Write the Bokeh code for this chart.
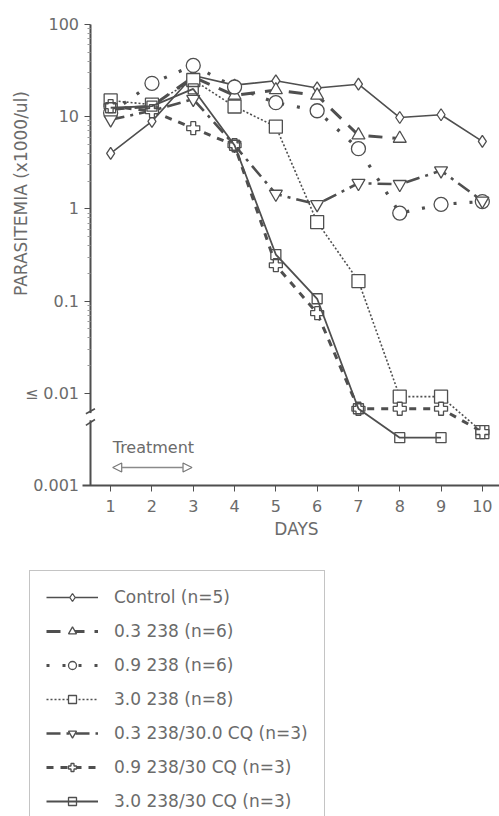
from math import pi
from bokeh.plotting import figure
from bokeh.models import FixedTicker, Legend, LegendItem, Label, Arrow, NormalHead
from bokeh.embed import file_html
from bokeh.resources import INLINE

# ---------------- data ----------------
days = [1, 2, 3, 4, 5, 6, 7, 8, 9, 10]
days_to8 = [1, 2, 3, 4, 5, 6, 7, 8]
days_to9 = [1, 2, 3, 4, 5, 6, 7, 8, 9]

control = [4.0, 8.9, 28, 22, 24.5, 20.5, 22.5, 9.8, 10.5, 5.4]
d03_238 = [12, 13, 27, 17, 19.5, 17, 6.3, 5.8]
d09_238 = [11, 23, 36, 21, 14.2, 11.6, 4.5, 0.9, 1.12, 1.2]
d30_238 = [15, 13.5, 25, 12.9, 7.8, 0.72, 0.165, 0.0092, 0.0092, 0.0038]
cq_03 = [9.3, 11.6, 15.5, 4.9, 1.45, 1.12, 1.9, 1.85, 2.6, 1.22]
cq_09 = [13, 11.5, 7.5, 4.9, 0.245, 0.074, 0.0068, 0.0068, 0.0068, 0.0038]
cq_30 = [12.5, 13, 20, 4.9, 0.32, 0.106, 0.0068, 0.0033, 0.0033]

series_names = ["Control (n=5)", "0.3 238 (n=6)", "0.9 238 (n=6)", "3.0 238 (n=8)",
                "0.3 238/30.0 CQ (n=3)", "0.9 238/30 CQ (n=3)", "3.0 238/30 CQ (n=3)"]

x_ticks = [1, 2, 3, 4, 5, 6, 7, 8, 9, 10]
y_ticks = [0.001, 0.01, 0.1, 1, 10, 100]
y_tick_labels = ["0.001", "\u2264 0.01", "0.1", "1", "10", "100"]

# ---------------- layout constants ----------------
W, H = 499, 816
PX_DAY = 41.3          # pixels per day
X0_PX = 89.5           # pixel position of x = 0.5 (the y axis)
PX_DEC = 92.2          # pixels per decade
Y100_PX = 24           # pixel position of y = 100

x_lo = 0.5 - X0_PX / PX_DAY
x_hi = 0.5 + (W - X0_PX) / PX_DAY
y_lo = 10 ** (2 - (H - Y100_PX) / PX_DEC)
y_hi = 10 ** (2 + Y100_PX / PX_DEC)

FONT = "DejaVu Sans"
TXT = "#6b6b6b"
INK = "#4f4f4f"

styles = [
    # x, y, marker, size, dash, line width, marker fill alpha
    (days, control, "diamond", 12, "solid", 1.6, 1.0),
    (days_to8, d03_238, "triangle", 13, "14 10", 3.0, 1.0),
    (days, d09_238, "circle", 14, "3 13", 3.2, 1.0),
    (days, d30_238, "square", 13, "2 2", 1.6, 1.0),
    (days, cq_03, "inverted_triangle", 13, "14 6 3 6", 2.6, 1.0),
    (days, cq_09, "plus", 13, "7 7", 3.0, 1.0),
    (days_to9, cq_30, "square", 10, "solid", 1.8, 0.0),
]

p = figure(frame_width=W, frame_height=H,
           x_range=(x_lo, x_hi), y_range=(y_lo, y_hi),
           y_axis_type="log", output_backend="svg", toolbar_location=None,
           min_border_left=0, min_border_right=0, min_border_top=0,
           min_border_bottom=0)
p.background_fill_color = "white"
p.border_fill_color = "white"
p.outline_line_color = None
p.xgrid.visible = False
p.ygrid.visible = False

items = []
for name, (xs, ys, mk, sz, dash, lw, fa) in zip(series_names, styles):
    lr = p.line(xs, ys, line_color=INK, line_width=lw, line_dash=dash)
    sr = p.scatter(xs, ys, marker=mk, size=sz, fill_color="white", fill_alpha=fa,
                   line_color=INK, line_width=1.3)
    items.append(LegendItem(label=name, renderers=[lr, sr]))

# ---------------- axes (fixed inside the full-canvas frame) ----------------
xa = p.xaxis[0]
xa.fixed_location = 0.001
xa.bounds = (0.33, x_hi)
xa.ticker = FixedTicker(ticks=x_ticks)
xa.axis_line_color = INK
xa.axis_line_width = 2
xa.major_tick_line_color = INK
xa.major_tick_out = 6
xa.major_tick_in = 0
xa.minor_tick_line_color = None
xa.major_label_standoff = 8
xa.major_label_text_font = FONT
xa.major_label_text_font_size = "16px"
xa.major_label_text_color = TXT

minor = []
for dec in [0.01, 0.1, 1, 10]:
    for k in range(2, 10):
        minor.append(dec * k)

ya = p.yaxis[0]
ya.fixed_location = 0.5
ya.bounds = (0.001, 100)
ya.ticker = FixedTicker(ticks=y_ticks, minor_ticks=minor)
overrides = {}
for v, s in zip(y_ticks, y_tick_labels):
    overrides[v] = s
    overrides[str(v)] = s
ya.major_label_overrides = overrides
ya.axis_line_color = INK
ya.axis_line_width = 2
ya.major_tick_line_color = INK
ya.major_tick_out = 6
ya.major_tick_in = 0
ya.minor_tick_line_color = "#9a9a9a"
ya.minor_tick_out = 3
ya.minor_tick_in = 0
ya.major_label_standoff = 5
ya.major_label_text_font = FONT
ya.major_label_text_font_size = "16px"
ya.major_label_text_color = TXT

# axis break on the y axis
p.quad(left=[0.44], right=[0.56], bottom=[0.0051], top=[0.0061],
       fill_color="white", line_color=None, level="overlay")
p.segment(x0=[0.40, 0.40], y0=[0.0060, 0.00448], x1=[0.62, 0.62], y1=[0.0068, 0.0052],
          line_color=INK, line_width=1.6, level="overlay")

# ---------------- texts ----------------
p.add_layout(Label(x=20, y=H - 193, x_units="screen", y_units="screen",
                   text="PARASITEMIA (x1000/ul)", angle=pi / 2,
                   text_align="center", text_baseline="middle",
                   text_font=FONT, text_font_size="17px", text_color=TXT))
p.add_layout(Label(x=5.5, y=H - 528, x_units="data", y_units="screen", text="DAYS",
                   text_align="center", text_baseline="middle",
                   text_font=FONT, text_font_size="17px", text_color=TXT))
p.add_layout(Label(x=1.05, y=H - 447, x_units="data", y_units="screen", text="Treatment",
                   text_align="left", text_baseline="middle",
                   text_font=FONT, text_font_size="16px", text_color=TXT))
p.add_layout(Arrow(x_start=1.05, y_start=0.00157, x_end=2.97, y_end=0.00157,
                   line_color="#8a8a8a", line_width=1.5,
                   start=NormalHead(size=9, fill_color="white", line_color="#777", line_width=1.2),
                   end=NormalHead(size=9, fill_color="white", line_color="#777", line_width=1.2)))

# ---------------- legend ----------------
legend = Legend(items=items, location=(29, H - 572 - 256), orientation="vertical",
                label_text_font=FONT, label_text_font_size="17px", label_text_color=TXT,
                border_line_color="#8a8a8a", border_line_width=1,
                background_fill_color="white", background_fill_alpha=1.0,
                glyph_width=52, glyph_height=20, label_height=20, label_standoff=16,
                spacing=14, padding=16, margin=0)
p.add_layout(legend, "center")

open("out.html", "w").write(file_html(p, INLINE))
